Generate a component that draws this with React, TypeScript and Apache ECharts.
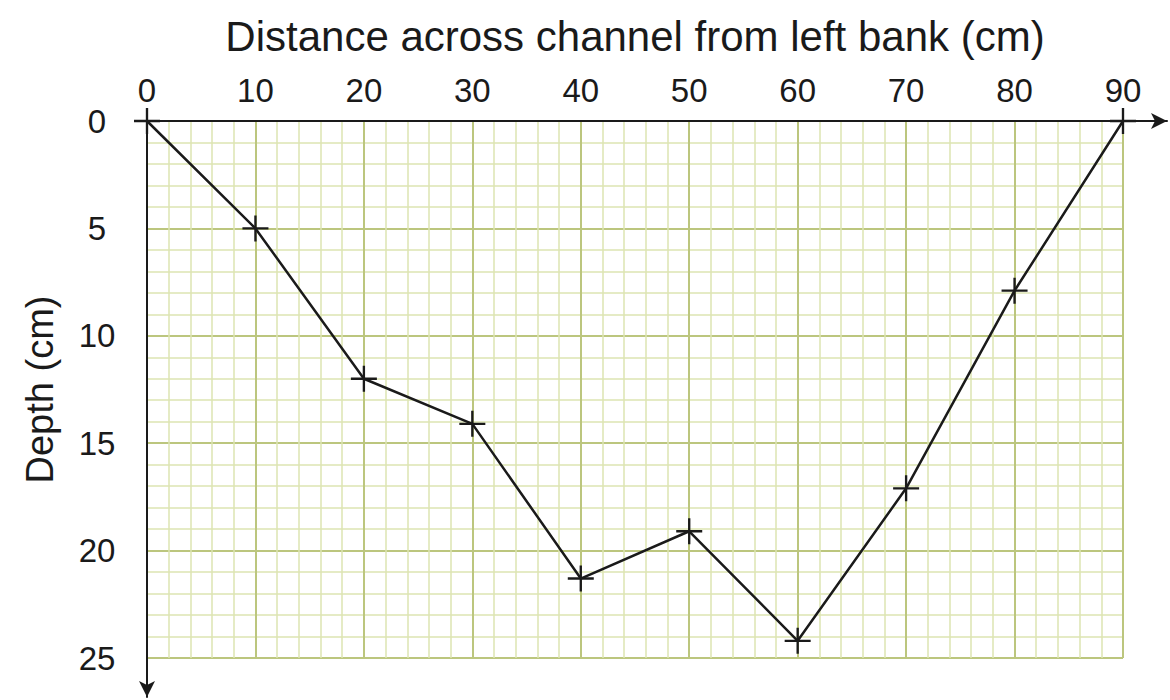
import React, { useEffect, useRef } from "react";
import * as echarts from "echarts";

const distances = [0, 10, 20, 30, 40, 50, 60, 70, 80, 90];
const depths = [0, 5, 12, 14.1, 21.3, 19.1, 24.2, 17.1, 7.9, 0];
const xTitle = "Distance across channel from left bank (cm)";
const yTitle = "Depth (cm)";

const FONT = "'Liberation Sans', Arial, Helvetica, sans-serif";
const PLUS = "path://M4.55,0h0.9v4.55h4.55v0.9h-4.55v4.55h-0.9v-4.55h-4.55v-0.9h4.55z";

export default function App() {
  const ref = useRef<HTMLDivElement>(null);
  useEffect(() => {
    if (!ref.current) return;
    const chart = echarts.init(ref.current, null, { renderer: "svg" });
    const major = { show: true, lineStyle: { color: "#bcc67e", width: 2 } };
    const minor = { show: true, lineStyle: { color: "#dde4b2", width: 1.5 } };
    chart.setOption({
      animation: false,
      backgroundColor: "#ffffff",
      grid: [
        { left: 147, top: 121, width: 976, height: 537 },
        { left: 147, top: 121, right: 3, bottom: 3 },
      ],
      xAxis: [
        {
          type: "value",
          gridIndex: 0,
          position: "top",
          min: 0,
          max: 90,
          interval: 10,
          name: xTitle,
          nameLocation: "middle",
          nameGap: 64,
          nameTextStyle: { fontFamily: FONT, fontSize: 42, color: "#1a1a1a" },
          axisLine: { show: false },
          axisTick: { show: false },
          axisLabel: { fontFamily: FONT, fontSize: 33, color: "#1a1a1a", margin: 14 },
          splitLine: major,
          minorTick: { show: false, splitNumber: 5 },
          minorSplitLine: minor,
        },
        {
          type: "value",
          gridIndex: 1,
          position: "top",
          min: 0,
          max: 1,
          axisLine: {
            show: true,
            onZero: false,
            symbol: ["none", "arrow"],
            symbolSize: [12, 16],
            lineStyle: { color: "#1a1a1a", width: 2 },
          },
          axisTick: { show: false },
          axisLabel: { show: false },
          splitLine: { show: false },
        },
      ],
      yAxis: [
        {
          type: "value",
          gridIndex: 0,
          inverse: true,
          min: 0,
          max: 25,
          interval: 5,
          name: yTitle,
          nameLocation: "middle",
          nameGap: 88,
          nameTextStyle: { fontFamily: FONT, fontSize: 38, color: "#1a1a1a" },
          axisLine: { show: false },
          axisTick: { show: false },
          axisLabel: { fontFamily: FONT, fontSize: 33, color: "#1a1a1a", margin: 50, align: "center" },
          splitLine: major,
          minorTick: { show: false, splitNumber: 5 },
          minorSplitLine: minor,
        },
        {
          type: "value",
          gridIndex: 1,
          inverse: true,
          min: 0,
          max: 1,
          axisLine: {
            show: true,
            onZero: false,
            symbol: ["arrow", "none"],
            symbolSize: [12, 16],
            lineStyle: { color: "#1a1a1a", width: 2 },
          },
          axisTick: { show: false },
          axisLabel: { show: false },
          splitLine: { show: false },
        },
      ],
      series: [
        {
          type: "line",
          xAxisIndex: 0,
          yAxisIndex: 0,
          data: distances.map((d, i) => [d, depths[i]]),
          symbol: PLUS,
          symbolSize: 26,
          itemStyle: { color: "#1a1a1a" },
          lineStyle: { color: "#1a1a1a", width: 2.5 },
          z: 10,
        },
      ],
    });
    return () => chart.dispose();
  }, []);
  return (
    <div
      ref={ref}
      style={{ position: "fixed", left: 0, top: 0, width: 1170, height: 700 }}
    />
  );
}
